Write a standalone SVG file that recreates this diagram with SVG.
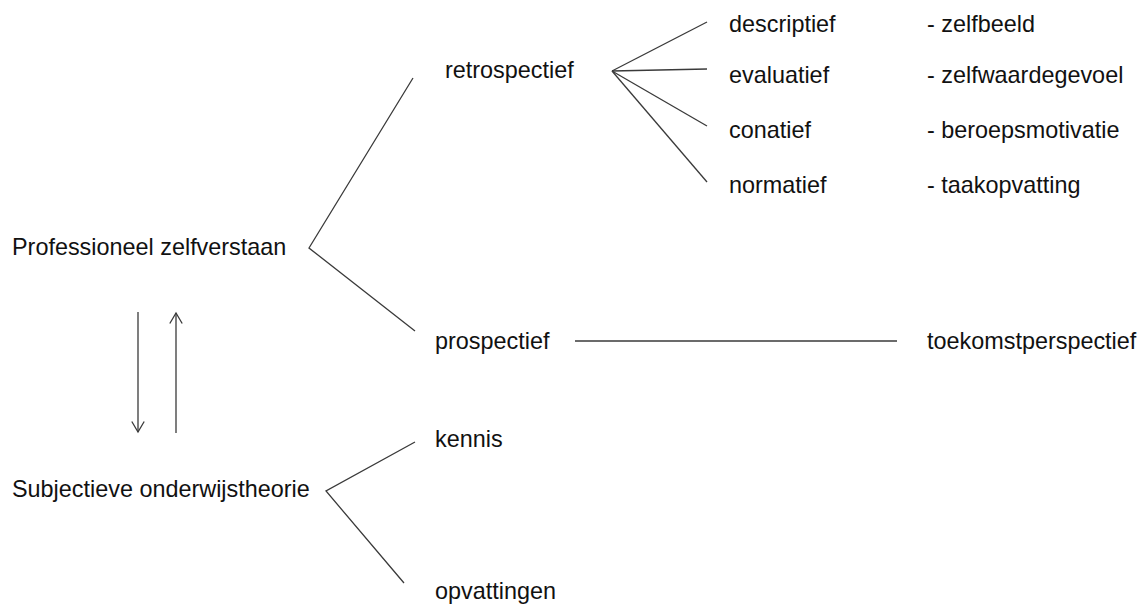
<svg xmlns="http://www.w3.org/2000/svg" width="1147" height="606" viewBox="0 0 1147 606">
<style>
  text { font-family: "Liberation Sans", Arial, sans-serif; font-size: 23.4px; fill: #111; }
  .ln { stroke: #3a3a3a; stroke-width: 1.3; fill: none; }
</style>
<defs>
  <marker id="ah" viewBox="0 0 14 14" refX="12" refY="7" markerWidth="14" markerHeight="14" markerUnits="userSpaceOnUse" orient="auto">
    <path d="M1.5,0.8 L12,7 L1.5,13.2" fill="none" stroke="#3a3a3a" stroke-width="1.3"/>
  </marker>
</defs>
<rect width="1147" height="606" fill="#fff"/>
<g id="connectors">
  <polyline class="ln" points="413,78 309,248 415,331"/>
  <polyline class="ln" points="415,442 326,491 404,583"/>
  <line class="ln" x1="707" y1="22" x2="612" y2="71"/>
  <line class="ln" x1="707" y1="69" x2="612" y2="71"/>
  <line class="ln" x1="707" y1="126" x2="612" y2="71"/>
  <line class="ln" x1="707" y1="182" x2="612" y2="71"/>
  <line class="ln" x1="575" y1="341" x2="897" y2="341"/>
  <line class="ln" x1="138" y1="312" x2="138" y2="432" marker-end="url(#ah)"/>
  <line class="ln" x1="176" y1="433" x2="176" y2="313" marker-end="url(#ah)"/>
</g>
<g id="n-professioneel"><text x="12" y="255">Professioneel zelfverstaan</text></g>
<g id="n-subjectieve"><text x="12" y="497">Subjectieve onderwijstheorie</text></g>
<g id="n-retrospectief"><text x="445" y="78">retrospectief</text></g>
<g id="n-prospectief"><text x="435" y="349">prospectief</text></g>
<g id="n-kennis"><text x="435" y="447">kennis</text></g>
<g id="n-opvattingen"><text x="435" y="599">opvattingen</text></g>
<g id="n-descriptief"><text x="729" y="32">descriptief</text></g>
<g id="n-evaluatief"><text x="729" y="83">evaluatief</text></g>
<g id="n-conatief"><text x="729" y="138">conatief</text></g>
<g id="n-normatief"><text x="729" y="193">normatief</text></g>
<g id="n-zelfbeeld"><text x="927" y="32">- zelfbeeld</text></g>
<g id="n-zelfwaardegevoel"><text x="927" y="83">- zelfwaardegevoel</text></g>
<g id="n-beroepsmotivatie"><text x="927" y="138">- beroepsmotivatie</text></g>
<g id="n-taakopvatting"><text x="927" y="193">- taakopvatting</text></g>
<g id="n-toekomstperspectief"><text x="927" y="349">toekomstperspectief</text></g>
</svg>
